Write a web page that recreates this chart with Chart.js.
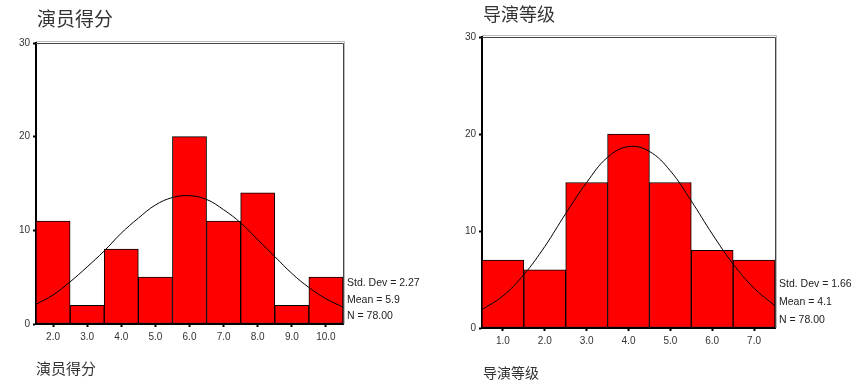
<!DOCTYPE html>
<html>
<head>
<meta charset="utf-8">
<script src="https://cdn.jsdelivr.net/npm/chart.js@4.4.1/dist/chart.umd.min.js"></script>
<style>
  html, body { margin: 0; padding: 0; background: #fff; }
  .box { position: absolute; top: 0; height: 382px; }
</style>
</head>
<body>
<div class="box" style="left:0;width:430px"><canvas id="actorChart"></canvas></div>
<div class="box" style="left:430px;width:431px"><canvas id="directorChart"></canvas></div>
<script>
// 演员得分
const actorTitle = '演员得分';
const actorBins = ['2.0', '3.0', '4.0', '5.0', '6.0', '7.0', '8.0', '9.0', '10.0'];
const actorCounts = [11, 2, 8, 5, 20, 11, 14, 2, 5];
const actorCurveX = [1.5, 2, 2.5, 3, 3.5, 4, 4.5, 5, 5.5, 6, 6.5, 7, 7.5, 8, 8.5, 9, 9.5, 10, 10.5];
const actorCurveY = [2.1, 3.1, 4.5, 6.1, 7.8, 9.7, 11.3, 12.7, 13.5, 13.7, 13.3, 12.2, 10.8, 9.0, 7.2, 5.4, 3.9, 2.7, 1.8];
const actorStats = ['Std. Dev = 2.27', 'Mean = 5.9', 'N = 78.00'];

// 导演等级
const directorTitle = '导演等级';
const directorBins = ['1.0', '2.0', '3.0', '4.0', '5.0', '6.0', '7.0'];
const directorCounts = [7, 6, 15, 20, 15, 8, 7];
const directorCurveX = [0.5, 1, 1.5, 2, 2.5, 3, 3.5, 4, 4.5, 5, 5.5, 6, 6.5, 7, 7.5];
const directorCurveY = [1.9, 3.3, 5.5, 8.4, 11.8, 15.0, 17.6, 18.7, 18.2, 16.2, 13.1, 9.7, 6.6, 4.1, 2.3];
const directorStats = ['Std. Dev = 1.66', 'Mean = 4.1', 'N = 78.00'];

const yTicks = [0, 10, 20, 30];

const tickFont = { family: 'Liberation Sans, Arial, sans-serif', size: 10 };
const cjkFont = '"Noto Sans CJK SC", sans-serif';

const textPlugin = {
    id: 'sketchText',
    beforeDatasetsDraw(chart, args, opts) {
        const a = chart.chartArea;
        const ctx = chart.ctx;
        ctx.save();
        // top and right frame lines
        ctx.strokeStyle = '#bbb';
        ctx.lineWidth = 1;
        ctx.beginPath();
        ctx.moveTo(a.left, a.top - 1.5);
        ctx.lineTo(a.right + 1.5, a.top - 1.5);
        ctx.lineTo(a.right + 1.5, a.bottom);
        ctx.stroke();
        ctx.strokeStyle = '#444';
        ctx.beginPath();
        ctx.moveTo(a.left, a.top + 0.5);
        ctx.lineTo(a.right + 0.5, a.top + 0.5);
        ctx.lineTo(a.right + 0.5, a.bottom);
        ctx.stroke();
        ctx.restore();
    },
    afterDraw(chart, args, opts) {
        const a = chart.chartArea;
        const ctx = chart.ctx;
        ctx.save();
        ctx.fillStyle = '#333';
        ctx.textBaseline = 'middle';
        ctx.textAlign = 'left';
        ctx.font = opts.titleSize + 'px ' + cjkFont;
        ctx.fillText(opts.title, opts.titleX, opts.titleY);
        ctx.font = opts.labelSize + 'px ' + cjkFont;
        ctx.fillText(opts.title, opts.labelX, opts.labelY);
        ctx.fillStyle = '#222';
        ctx.font = '10.5px Liberation Sans, Arial, sans-serif';
        opts.stats.forEach((s, i) => {
            ctx.fillText(s, a.right + 4, a.bottom - opts.statsOffset[i]);
        });
        ctx.restore();
    }
};

function createHistogram(id, bins, counts, curveX, curveY, stats, look) {
    const ctx = document.getElementById(id).getContext('2d');
    const curve = curveX.map((x, i) => ({ x: x, y: curveY[i] }));
    new Chart(ctx, {
        type: 'bar',
        data: {
            labels: bins,
            datasets: [{
                type: 'line',
                data: curve,
                xAxisID: 'xc',
                borderColor: '#000',
                borderWidth: 1,
                pointRadius: 0,
                tension: 0.4,
                fill: false,
                order: 0
            }, {
                data: counts,
                xAxisID: 'x',
                backgroundColor: '#ff0000',
                borderColor: '#000',
                borderWidth: 1,
                borderSkipped: false,
                barPercentage: 1,
                categoryPercentage: 1,
                grouped: false,
                order: 1
            }]
        },
        options: {
            responsive: true,
            maintainAspectRatio: false,
            animation: false,
            layout: { padding: { left: 0, right: look.padRight, top: look.padTop, bottom: 0 } },
            plugins: {
                legend: { display: false },
                tooltip: { enabled: false },
                sketchText: {
                    title: look.title,
                    titleSize: look.titleSize, titleX: look.titleX, titleY: look.titleY,
                    labelSize: look.labelSize, labelX: look.labelX, labelY: look.labelY,
                    stats: stats,
                    statsOffset: look.statsOffset
                }
            },
            scales: {
                x: {
                    type: 'category',
                    offset: true,
                    grid: { drawOnChartArea: false, offset: false, tickLength: 3, tickWidth: 2, tickColor: '#000' },
                    border: { display: true, color: '#000', width: 2 },
                    ticks: { font: tickFont, color: '#333', padding: 4, maxRotation: 0 },
                    afterFit(scale) { scale.height = look.xHeight; }
                },
                xc: {
                    type: 'linear',
                    display: false,
                    offset: false,
                    min: look.xMin,
                    max: look.xMax
                },
                y: {
                    min: 0,
                    max: 30,
                    afterBuildTicks(scale) { scale.ticks = yTicks.map(v => ({ value: v })); },
                    grid: { drawOnChartArea: false, tickLength: 3, tickWidth: 2, tickColor: '#000' },
                    border: { display: true, color: '#000', width: 2 },
                    ticks: { font: tickFont, color: '#333', padding: 3 },
                    afterFit(scale) { scale.width = look.yWidth; }
                }
            }
        },
        plugins: [textPlugin]
    });
}

createHistogram('actorChart', actorBins, actorCounts, actorCurveX, actorCurveY, actorStats, {
    title: actorTitle,
    padRight: 87, padTop: 43, xHeight: 58, yWidth: 36,
    xMin: 1.5, xMax: 10.5,
    titleSize: 19, titleX: 37, titleY: 19,
    labelSize: 15, labelX: 36, labelY: 368,
    statsOffset: [41, 24, 7.5]
});

createHistogram('directorChart', directorBins, directorCounts, directorCurveX, directorCurveY, directorStats, {
    title: directorTitle,
    padRight: 86, padTop: 37, xHeight: 54, yWidth: 52,
    xMin: 0.5, xMax: 7.5,
    titleSize: 18, titleX: 53, titleY: 14,
    labelSize: 14, labelX: 53, labelY: 373,
    statsOffset: [43.5, 25.5, 7.5]
});
</script>
</body>
</html>
